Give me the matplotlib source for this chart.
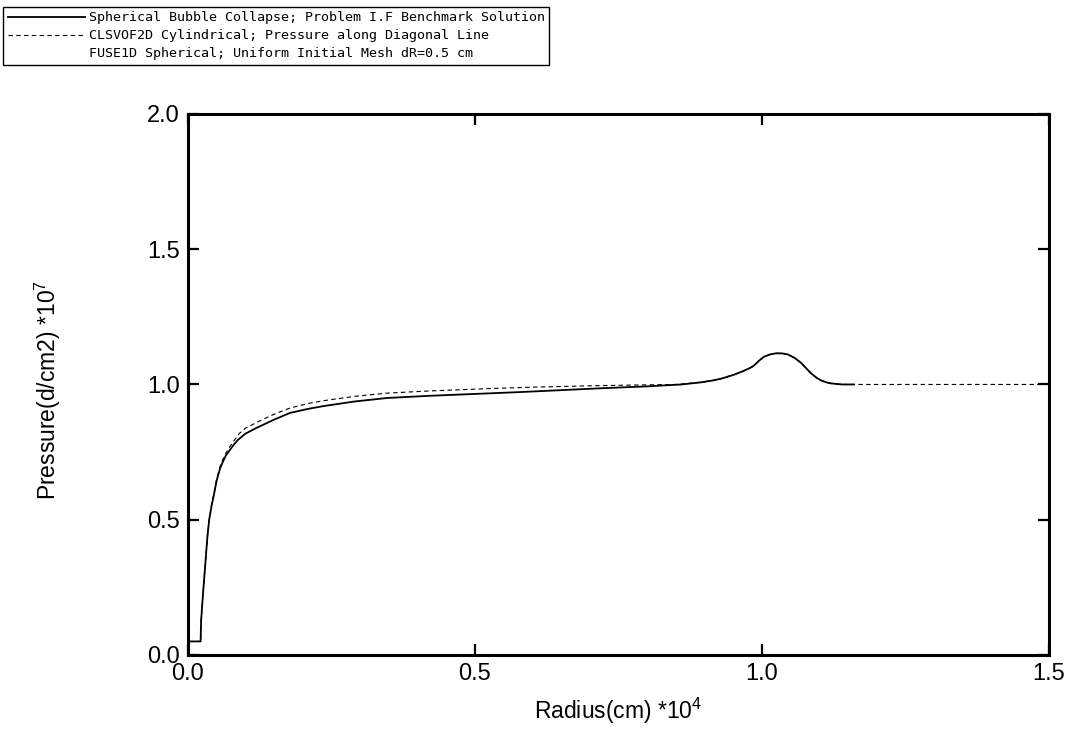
import matplotlib
matplotlib.use('Agg')
import matplotlib.pyplot as plt

# 球形気泡崩壊: ベンチマーク解 (実線)
bench_r = [0.0, 0.022, 0.023, 0.026, 0.030, 0.034, 0.037, 0.041, 0.045, 0.050,
           0.056, 0.061, 0.066, 0.073, 0.080, 0.087, 0.10, 0.12, 0.15, 0.178,
           0.21, 0.236, 0.29, 0.347, 0.42, 0.50, 0.58, 0.65, 0.72, 0.80,
           0.86, 0.894, 0.915, 0.93, 0.951, 0.968, 0.98, 0.986, 0.995, 1.003,
           1.014, 1.024, 1.035, 1.045, 1.057, 1.068, 1.077, 1.085, 1.095, 1.103,
           1.112, 1.12, 1.14, 1.16]
bench_p = [0.05, 0.05, 0.13, 0.22, 0.33, 0.44, 0.50, 0.55, 0.59, 0.645,
           0.69, 0.715, 0.737, 0.758, 0.778, 0.795, 0.818, 0.84, 0.87, 0.895,
           0.91, 0.92, 0.937, 0.95, 0.958, 0.965, 0.972, 0.979, 0.986, 0.993,
           1.0, 1.008, 1.015, 1.022, 1.036, 1.05, 1.062, 1.07, 1.088, 1.102,
           1.111, 1.115, 1.115, 1.111, 1.098, 1.08, 1.06, 1.042, 1.025, 1.015,
           1.008, 1.004, 1.0, 1.0]

# CLSVOF2D 円筒座標; 対角線上の圧力 (破線)
clsvof_r = [0.0, 0.022, 0.023, 0.026, 0.030, 0.034, 0.037, 0.041, 0.045, 0.050,
            0.056, 0.061, 0.066, 0.073, 0.080, 0.09, 0.10, 0.12, 0.15, 0.178,
            0.21, 0.236, 0.29, 0.347, 0.42, 0.527, 0.60, 0.70, 0.78, 0.85,
            0.894, 0.915, 0.93, 0.951, 0.968, 0.98, 0.986, 0.995, 1.003, 1.014,
            1.024, 1.035, 1.045, 1.057, 1.068, 1.077, 1.085, 1.095, 1.103, 1.112,
            1.12, 1.14, 1.5]
clsvof_p = [0.05, 0.05, 0.13, 0.22, 0.33, 0.44, 0.50, 0.555, 0.595, 0.65,
            0.697, 0.724, 0.746, 0.77, 0.792, 0.82, 0.838, 0.86, 0.89, 0.913,
            0.93, 0.94, 0.956, 0.968, 0.976, 0.985, 0.99, 0.995, 0.998, 1.0,
            1.008, 1.015, 1.022, 1.036, 1.05, 1.062, 1.07, 1.088, 1.102, 1.111,
            1.115, 1.115, 1.111, 1.098, 1.08, 1.06, 1.042, 1.025, 1.015, 1.008,
            1.004, 1.0, 1.0]

# FUSE1D (スキャンでは線が見えない)
fuse_r = []
fuse_p = []

labels = ["Spherical Bubble Collapse; Problem I.F Benchmark Solution",
          "CLSVOF2D Cylindrical; Pressure along Diagonal Line",
          "FUSE1D Spherical; Uniform Initial Mesh dR=0.5 cm"]


def main():
    plt.rcParams['font.family'] = ['Liberation Sans', 'DejaVu Sans']
    plt.rcParams['mathtext.default'] = 'regular'

    fig = plt.figure(figsize=(10.79, 7.42), dpi=100)
    ax = fig.add_axes([0.1742, 0.1173, 0.798, 0.7291])

    h1, = ax.plot(bench_r, bench_p, color="black", linewidth=1.3)
    h2, = ax.plot(clsvof_r, clsvof_p, color="black", linewidth=0.8,
                  linestyle=(0, (4, 3)))
    h3, = ax.plot(fuse_r, fuse_p, linestyle="none", color="black")

    ax.set_xlim(0, 1.5)
    ax.set_ylim(0, 2.0)
    ax.set_xticks([0.0, 0.5, 1.0, 1.5])
    ax.set_yticks([0.0, 0.5, 1.0, 1.5, 2.0])
    ax.set_xticklabels(["0.0", "0.5", "1.0", "1.5"])
    ax.set_yticklabels(["0.0", "0.5", "1.0", "1.5", "2.0"])
    ax.tick_params(direction="in", length=8, width=1.6, labelsize=17,
                   top=True, right=True, pad=6)
    for s in ax.spines.values():
        s.set_linewidth(2.2)

    ax.set_xlabel("Radius(cm) *10$^4$", fontsize=16.5)
    ax.set_ylabel("Pressure(d/cm2) *10$^7$", fontsize=16.5)
    ax.xaxis.set_label_coords(0.5, -0.075)
    ax.yaxis.set_label_coords(-0.145, 0.49)

    leg = fig.legend([h1, h2, h3], labels, loc="upper left",
                     bbox_to_anchor=(0.003, 0.991),
                     prop={'family': 'DejaVu Sans Mono', 'size': 9.6},
                     frameon=True, fancybox=False, framealpha=1,
                     edgecolor="black", handlelength=5.8, handletextpad=0.25,
                     labelspacing=0.38, borderpad=0.35, borderaxespad=0)
    leg.get_frame().set_linewidth(1.0)

    fig.savefig("out.png", dpi=100)


if __name__ == "__main__":
    main()
